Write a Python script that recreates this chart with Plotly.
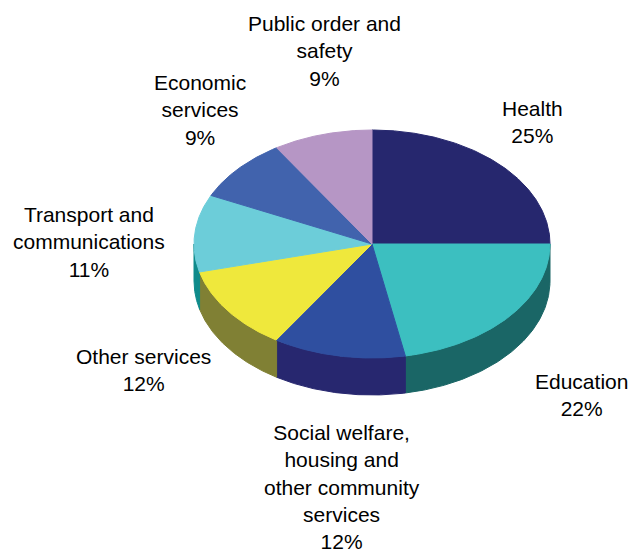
import numpy as np
import plotly.graph_objects as go

# Spending shares by function (percent)
categories = [
    "Health",
    "Education",
    "Social welfare,<br>housing and<br>other community<br>services",
    "Other services",
    "Transport and<br>communications",
    "Economic<br>services",
    "Public order and<br>safety",
]
values = [25, 22, 12, 12, 11, 9, 9]

top_colors = ["#26276e", "#3cbfc0", "#2f4fa0", "#efe83c", "#6ccdd9", "#4163ad", "#b696c5"]
side_colors = ["#1c1d55", "#1a6666", "#27276f", "#808034", "#0f8b8b", "#2f4a85", "#8a6f98"]

# label anchor points (pixel layout)
label_pos = [(532, 122), (581, 395), (342, 487), (143, 370), (89, 242), (200, 110), (324, 51)]

W, H = 631, 557
cx, cy = 372, 244        # centre of the top face
rx, ry = 178, 114        # ellipse radii of the tilted disc
depth = 37               # thickness of the disc


def ell(theta_deg, dy=0.0):
    """Point on the ellipse, angle measured clockwise from 12 o'clock."""
    t = np.radians(theta_deg)
    return cx + rx * np.sin(t), cy - ry * np.cos(t) + dy


total = float(sum(values))
bounds = np.concatenate([[0.0], np.cumsum(values) / total * 360.0])

fig = go.Figure()

# side walls: only the front half (90..270 deg) is visible
for i in range(len(values)):
    a0, a1 = max(bounds[i], 90.0), min(bounds[i + 1], 270.0)
    if a1 <= a0:
        continue
    th = np.linspace(a0, a1, 120)
    xt, yt = ell(th)
    xb, yb = ell(th[::-1], depth)
    xs = np.concatenate([xt, xb, xt[:1]])
    ys = np.concatenate([yt, yb, yt[:1]])
    fig.add_trace(go.Scatter(
        x=xs, y=ys, mode="lines", fill="toself",
        fillcolor=side_colors[i], line=dict(color=side_colors[i], width=1),
        hoverinfo="skip", showlegend=False,
    ))

# top faces
for i in range(len(values)):
    th = np.linspace(bounds[i], bounds[i + 1], 200)
    xe, ye = ell(th)
    xs = np.concatenate([[cx], xe, [cx]])
    ys = np.concatenate([[cy], ye, [cy]])
    fig.add_trace(go.Scatter(
        x=xs, y=ys, mode="lines", fill="toself",
        fillcolor=top_colors[i], line=dict(color=top_colors[i], width=1),
        name=categories[i].replace("<br>", " "),
        text=f"{values[i]}%", hoverinfo="name+text", showlegend=False,
    ))

for i, (lx, ly) in enumerate(label_pos):
    fig.add_annotation(
        x=lx, y=ly, xref="x", yref="y", showarrow=False,
        text=f"{categories[i]}<br>{values[i]}%",
        xanchor="center", yanchor="middle", align="center",
        font=dict(family="Liberation Sans, Arial, sans-serif", size=21, color="#000000"),
    )

fig.update_xaxes(range=[0, W], visible=False, fixedrange=True)
fig.update_yaxes(range=[H, 0], visible=False, fixedrange=True)
fig.update_layout(
    width=W, height=H,
    margin=dict(l=0, r=0, t=0, b=0),
    paper_bgcolor="white", plot_bgcolor="white",
)

fig.write_html("out.html")
